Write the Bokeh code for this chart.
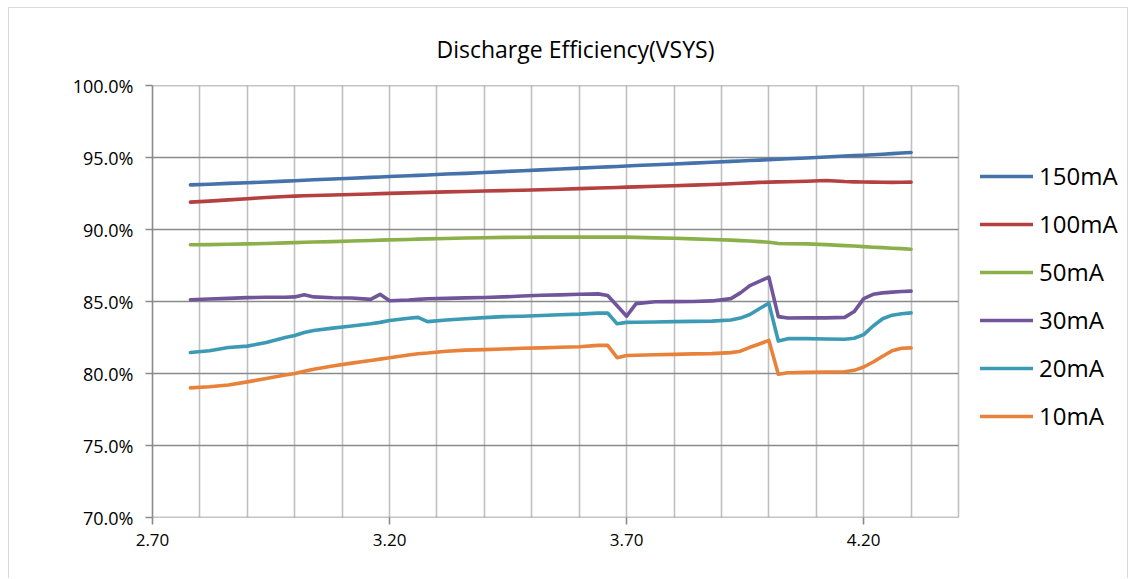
from bokeh.plotting import figure
from bokeh.models import Range1d, FixedTicker, Legend, LegendItem, PrintfTickFormatter
from bokeh.embed import file_html
from bokeh.resources import INLINE

# ---------------- data ----------------
voltage = [2.78, 2.82, 2.86, 2.90, 2.94, 2.98, 3.00, 3.02, 3.04, 3.08,
           3.12, 3.16, 3.18, 3.20, 3.24, 3.26, 3.28, 3.32, 3.36, 3.40,
           3.44, 3.48, 3.52, 3.56, 3.60, 3.64, 3.66, 3.68, 3.70, 3.72,
           3.76, 3.80, 3.84, 3.88, 3.92, 3.94, 3.96, 3.98, 4.00, 4.02,
           4.04, 4.08, 4.12, 4.16, 4.18, 4.20, 4.22, 4.24, 4.26, 4.28,
           4.30]

eff_150mA = [93.10, 93.14, 93.20, 93.25, 93.30, 93.36, 93.39, 93.42, 93.45, 93.51,
             93.56, 93.62, 93.65, 93.68, 93.73, 93.76, 93.79, 93.85, 93.90, 93.96,
             94.02, 94.08, 94.14, 94.20, 94.26, 94.32, 94.35, 94.38, 94.41, 94.44,
             94.50, 94.55, 94.61, 94.67, 94.73, 94.76, 94.79, 94.82, 94.85, 94.88,
             94.91, 94.97, 95.03, 95.10, 95.13, 95.16, 95.19, 95.23, 95.27, 95.31,
             95.35]

eff_100mA = [91.90, 91.97, 92.06, 92.14, 92.22, 92.29, 92.32, 92.34, 92.36, 92.40,
             92.43, 92.47, 92.49, 92.51, 92.54, 92.56, 92.58, 92.61, 92.64, 92.67,
             92.70, 92.73, 92.76, 92.80, 92.84, 92.88, 92.90, 92.92, 92.94, 92.96,
             93.00, 93.04, 93.08, 93.13, 93.18, 93.21, 93.24, 93.27, 93.29, 93.31,
             93.32, 93.35, 93.40, 93.33, 93.31, 93.30, 93.29, 93.28, 93.27, 93.28,
             93.29]

eff_50mA = [88.94, 88.95, 88.98, 89.00, 89.03, 89.07, 89.09, 89.11, 89.13, 89.16,
            89.20, 89.24, 89.26, 89.28, 89.31, 89.33, 89.35, 89.38, 89.41, 89.43,
            89.45, 89.46, 89.47, 89.47, 89.47, 89.47, 89.47, 89.47, 89.47, 89.45,
            89.42, 89.39, 89.35, 89.31, 89.26, 89.23, 89.20, 89.16, 89.12, 89.03,
            89.01, 89.00, 88.95, 88.88, 88.85, 88.81, 88.77, 88.74, 88.70, 88.67,
            88.63]

eff_30mA = [85.12, 85.17, 85.22, 85.27, 85.29, 85.30, 85.32, 85.47, 85.32, 85.26,
            85.24, 85.15, 85.50, 85.05, 85.10, 85.15, 85.19, 85.22, 85.25, 85.28,
            85.32, 85.38, 85.43, 85.46, 85.50, 85.53, 85.42, 84.70, 83.98, 84.85,
            84.98, 84.99, 85.00, 85.04, 85.20, 85.60, 86.10, 86.40, 86.69, 83.95,
            83.85, 83.86, 83.86, 83.90, 84.30, 85.20, 85.50, 85.60, 85.65, 85.69,
            85.72]

eff_20mA = [81.46, 81.58, 81.80, 81.90, 82.15, 82.50, 82.64, 82.85, 82.99, 83.15,
            83.30, 83.45, 83.55, 83.68, 83.84, 83.90, 83.60, 83.72, 83.80, 83.88,
            83.95, 83.98, 84.03, 84.08, 84.12, 84.19, 84.20, 83.45, 83.55, 83.56,
            83.58, 83.60, 83.62, 83.64, 83.72, 83.85, 84.10, 84.50, 84.88, 82.26,
            82.42, 82.42, 82.40, 82.38, 82.45, 82.70, 83.30, 83.80, 84.05, 84.15,
            84.21]

eff_10mA = [79.00, 79.08, 79.20, 79.42, 79.65, 79.90, 80.00, 80.15, 80.30, 80.52,
            80.72, 80.90, 81.00, 81.10, 81.28, 81.37, 81.42, 81.55, 81.62, 81.66,
            81.70, 81.75, 81.78, 81.82, 81.86, 81.95, 81.95, 81.10, 81.25, 81.27,
            81.30, 81.33, 81.36, 81.38, 81.45, 81.55, 81.82, 82.05, 82.30, 79.95,
            80.05, 80.08, 80.10, 80.12, 80.22, 80.45, 80.80, 81.20, 81.58, 81.75,
            81.78]

series_names = ["150mA", "100mA", "50mA", "30mA", "20mA", "10mA"]
series_values = [eff_150mA, eff_100mA, eff_50mA, eff_30mA, eff_20mA, eff_10mA]
series_colors = ["#4572AB", "#B4403F", "#8CB049", "#71559A", "#3C9AB5", "#E8823A"]

x_min, x_max = 2.7, 4.4          # the chart's x axis span
y_ticks = [70, 75, 80, 85, 90, 95, 100]
y_tick_labels = ["70.0%", "75.0%", "80.0%", "85.0%", "90.0%", "95.0%", "100.0%"]
x_ticks = [2.7, 3.2, 3.7, 4.2]
x_grid_ticks = [2.7, 2.8, 2.9, 3.0, 3.1, 3.2, 3.3, 3.4, 3.5, 3.6, 3.7,
                3.8, 3.9, 4.0, 4.1, 4.2, 4.3, 4.4]
title_text = "Discharge Efficiency(VSYS)"

FONT = "Open Sans"

# ---------------- layout numbers (pixels) ----------------
FIG_W, FIG_H = 1120, 571
LEFT, TOP, BOTTOM = 143, 77, 62
AXIS_PX = 806                      # pixels used by x_min..x_max
frame_w = FIG_W - LEFT
x_view_end = x_min + frame_w * (x_max - x_min) / AXIS_PX   # room for legend

p = figure(width=FIG_W, height=FIG_H,
           x_range=Range1d(x_min, x_view_end), y_range=Range1d(70, 100),
           output_backend="svg", toolbar_location=None,
           min_border_left=LEFT, min_border_right=0,
           min_border_top=TOP, min_border_bottom=BOTTOM)
p.outline_line_color = None
p.background_fill_color = "white"
p.border_fill_color = "white"
p.styles = {"margin-left": "8px", "margin-top": "7px",
            "border-left": "1px solid #d9d9d9",
            "border-top": "1px solid #d9d9d9",
            "border-right": "1px solid #d9d9d9"}

# title
p.title.text = title_text
p.title.align = "left"
p.title.offset = 284
p.title.text_font = FONT
p.title.text_font_size = "23px"
p.title.text_font_style = "normal"
p.title.text_color = "#000000"
p.title.standoff = 42

# grids: vertical light lines every 0.1, horizontal darker lines at y ticks
p.ygrid.grid_line_color = None
p.xgrid.ticker = FixedTicker(ticks=x_grid_ticks)
p.xgrid.grid_line_color = "#c0c0c0"
p.xgrid.grid_line_width = 1.6
p.segment(x0=[x_min] * len(y_ticks), y0=y_ticks,
          x1=[x_max] * len(y_ticks), y1=y_ticks,
          line_color="#8a8a8a", line_width=1.6)

# axes
p.xaxis.ticker = FixedTicker(ticks=x_ticks)
p.xaxis.formatter = PrintfTickFormatter(format="%.2f")
p.yaxis.ticker = FixedTicker(ticks=y_ticks)
p.yaxis.major_label_overrides = {t: s for t, s in zip(y_ticks, y_tick_labels)}
for ax in (p.xaxis[0], p.yaxis[0]):
    ax.axis_line_color = "#8a8a8a"
    ax.axis_line_width = 1.6
    ax.major_tick_line_color = "#8a8a8a"
    ax.major_tick_line_width = 1.6
    ax.major_tick_out = 7
    ax.major_tick_in = 0
    ax.minor_tick_line_color = None
    ax.major_label_text_font = FONT
    ax.major_label_text_color = "#000000"
p.xaxis.axis_line_color = None
p.yaxis.major_label_text_font_size = "18px"
p.xaxis.major_label_text_font_size = "17px"
p.yaxis.major_label_standoff = 12
p.xaxis.major_label_standoff = 9

# lines
items = []
for name, vals, col in zip(series_names, series_values, series_colors):
    r = p.line(voltage, vals, line_color=col, line_width=3.6,
               line_join="round", line_cap="round")
    items.append(LegendItem(label=name, renderers=[r]))

legend = Legend(items=items, location=(828, 85), orientation="vertical",
                glyph_width=53, glyph_height=24, label_height=24, spacing=15,
                padding=0, margin=0, label_standoff=6,
                label_text_font=FONT, label_text_font_size="24px",
                label_text_color="#000000",
                border_line_color=None, background_fill_alpha=0)
p.add_layout(legend)

open("out.html", "w").write(file_html(p, INLINE))
